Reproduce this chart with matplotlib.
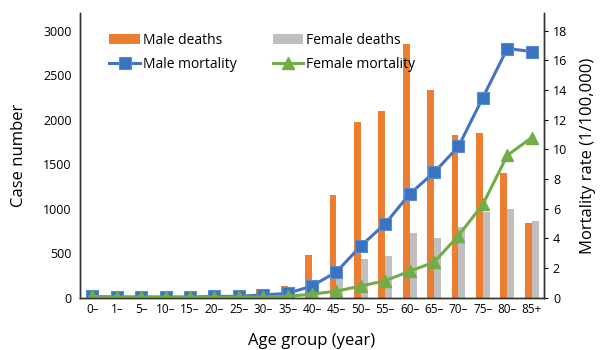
import matplotlib.pyplot as plt
import numpy as np

plt.rcParams['font.family'] = ['Open Sans', 'DejaVu Sans']

# ==========================
# Data
# ==========================
ages = ['0–', '1–', '5–', '10–', '15–', '20–', '25–', '30–', '35–', '40–',
        '45–', '50–', '55–', '60–', '65–', '70–', '75–', '80–', '85+']

male_deaths = [3, 2, 2, 3, 4, 8, 15, 105, 135, 485,
               1160, 1980, 2095, 2850, 2330, 1830, 1855, 1405, 845]
female_deaths = [2, 1, 1, 2, 2, 4, 6, 25, 45, 120,
                 280, 438, 465, 730, 675, 800, 960, 1000, 868]

male_rate = [0.1, 0.05, 0.05, 0.05, 0.05, 0.1, 0.1, 0.2, 0.3, 0.8,
             1.75, 3.5, 5.0, 7.0, 8.45, 10.2, 13.5, 16.8, 16.6]
female_rate = [0.1, 0.05, 0.05, 0.05, 0.05, 0.05, 0.05, 0.05, 0.1, 0.25,
               0.45, 0.8, 1.15, 1.8, 2.4, 4.2, 6.3, 9.6, 10.8]

x = np.arange(len(ages))

fig = plt.figure(figsize=(6.03, 3.5), dpi=100)
ax = fig.add_axes([0.133, 0.149, 0.769, 0.814])
ax2 = ax.twinx()

w = 0.28
b1 = ax.bar(x - w/2, male_deaths, width=w, color='#ED7D31', label='Male deaths')
b2 = ax.bar(x + w/2, female_deaths, width=w, color='#BFBFBF', label='Female deaths')

l1, = ax2.plot(x, male_rate, color='#4472C4', lw=2.2, marker='s', ms=8,
               mfc='#3A74C0', mec='#5B8BD0', mew=0.8, label='Male mortality')
l2, = ax2.plot(x, female_rate, color='#70AD47', lw=2.2, marker='^', ms=9,
               mfc='#70AD47', mec='#70AD47', label='Female mortality')

ax.set_xlim(-0.5, len(ages) - 0.5)
ax.set_ylim(0, 3200)
ax2.set_ylim(0, 19.2)
ax.set_yticks(range(0, 3001, 500))
ax2.set_yticks(range(0, 19, 2))
ax.set_xticks(x)
ax.set_xticklabels(ages)

ax.tick_params(axis='y', length=0, labelsize=9, pad=6)
ax.tick_params(axis='x', length=0, labelsize=8.5, pad=4)
ax2.tick_params(axis='y', length=3, labelsize=9, width=0.8)

for a in (ax, ax2):
    a.spines['top'].set_visible(False)
    for s in ('left', 'right', 'bottom'):
        a.spines[s].set_color('#333333')
        a.spines[s].set_linewidth(1.0)

ax.set_ylabel('Case number', fontsize=12, labelpad=12)
ax2.set_ylabel('Mortality rate (1/100,000)', fontsize=12, labelpad=9)
ax.set_xlabel('Age group (year)', fontsize=12, labelpad=12)

ax.legend([b1, l1, b2, l2],
          ['Male deaths', 'Male mortality', 'Female deaths', 'Female mortality'],
          ncol=2, frameon=False, fontsize=10, loc='upper left',
          bbox_to_anchor=(0.045, 0.96), columnspacing=2.6, handlelength=2.2,
          handletextpad=0.2, labelspacing=0.65, borderaxespad=0.2)

fig.savefig('out.png', dpi=100)
